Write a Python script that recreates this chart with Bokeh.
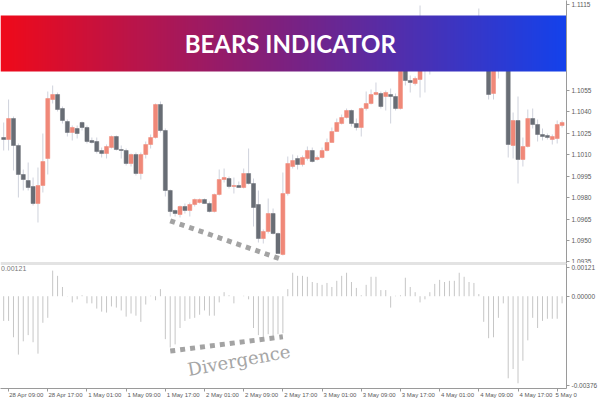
import numpy as np
from bokeh.plotting import figure
from bokeh.layouts import column
from bokeh.models import (Range1d, FixedTicker, NumeralTickFormatter, Span, Label, AllLabels)
from bokeh.embed import file_html
from bokeh.resources import INLINE

# ---- data (EURUSD H1) ----
opens = [1.10221, 1.10207, 1.10354, 1.10165, 1.09962, 1.09920, 1.09878, 1.09759, 1.09885, 1.10074,
         1.10487, 1.10522, 1.10424, 1.10333, 1.10256, 1.10284, 1.10326, 1.10291, 1.10200, 1.10193,
         1.10130, 1.10109, 1.10151, 1.10228, 1.10137, 1.10130, 1.10039, 1.10102, 1.09969, 1.10102,
         1.10172, 1.10221, 1.10452, 1.10270, 1.09850, 1.09710, 1.09682, 1.09738, 1.09710, 1.09752,
         1.09766, 1.09787, 1.09759, 1.09703, 1.09822, 1.09927, 1.09934, 1.09878, 1.09885, 1.09871,
         1.09969, 1.09899, 1.09752, 1.09514, 1.09563, 1.09689, 1.09549, 1.09402, 1.09829, 1.10018,
         1.10074, 1.10032, 1.10074, 1.10130, 1.10067, 1.10081, 1.10130, 1.10186, 1.10263, 1.10319,
         1.10361, 1.10410, 1.10319, 1.10291, 1.10424, 1.10459, 1.10522, 1.10529, 1.10508, 1.10522,
         1.10508, 1.10424, 1.10704, 1.10620, 1.10599, 1.10627, 1.10774, 1.10900, 1.10816, 1.10935,
         1.10886, 1.10970, 1.10914, 1.10984, 1.10935, 1.11005, 1.10956, 1.11026, 1.10970, 1.10865,
         1.10529, 1.10760, 1.10795, 1.10746, 1.10165, 1.10340, 1.10067, 1.10158, 1.10354, 1.10312,
         1.10242, 1.10235, 1.10207, 1.10214, 1.10305]
highs = [1.10326, 1.10487, 1.10368, 1.10179, 1.09997, 1.10046, 1.09941, 1.10011, 1.10249, 1.10543,
         1.10585, 1.10536, 1.10438, 1.10347, 1.10305, 1.10305, 1.10333, 1.10305, 1.10221, 1.10221,
         1.10151, 1.10172, 1.10235, 1.10235, 1.10165, 1.10144, 1.10109, 1.10116, 1.10116, 1.10193,
         1.10242, 1.10459, 1.10473, 1.10284, 1.09857, 1.09717, 1.09745, 1.09759, 1.09766, 1.09794,
         1.09794, 1.09794, 1.09773, 1.09829, 1.09997, 1.10004, 1.09948, 1.09941, 1.09913, 1.10004,
         1.10144, 1.09934, 1.09850, 1.09577, 1.09794, 1.09724, 1.09556, 1.09976, 1.10088, 1.10102,
         1.10095, 1.10095, 1.10158, 1.10151, 1.10095, 1.10151, 1.10214, 1.10291, 1.10354, 1.10382,
         1.10424, 1.10417, 1.10354, 1.10431, 1.10543, 1.10557, 1.10606, 1.10543, 1.10550, 1.10564,
         1.10529, 1.10760, 1.10746, 1.10655, 1.10648, 1.11145, 1.10970, 1.10970, 1.11005, 1.10984,
         1.11026, 1.11040, 1.11054, 1.11040, 1.11054, 1.11061, 1.11068, 1.11124, 1.11026, 1.10900,
         1.10795, 1.10865, 1.10865, 1.10795, 1.10396, 1.10508, 1.10221, 1.10417, 1.10424, 1.10347,
         1.10284, 1.10249, 1.10242, 1.10340, 1.10340]
lows = [1.10130, 1.10130, 1.09990, 1.09801, 1.09850, 1.09850, 1.09745, 1.09626, 1.09836, 1.09962,
        1.10459, 1.10403, 1.10319, 1.10228, 1.10200, 1.10214, 1.10270, 1.10179, 1.10179, 1.10109,
        1.10081, 1.10074, 1.10144, 1.10130, 1.10074, 1.10025, 1.10018, 1.09955, 1.09927, 1.10074,
        1.10144, 1.10214, 1.10256, 1.09808, 1.09668, 1.09668, 1.09661, 1.09689, 1.09668, 1.09738,
        1.09759, 1.09759, 1.09696, 1.09696, 1.09815, 1.09906, 1.09864, 1.09829, 1.09871, 1.09864,
        1.09892, 1.09598, 1.09486, 1.09479, 1.09549, 1.09542, 1.09409, 1.09395, 1.09815, 1.10004,
        1.09997, 1.10018, 1.10060, 1.10046, 1.10060, 1.10074, 1.10123, 1.10186, 1.10263, 1.10312,
        1.10354, 1.10298, 1.10270, 1.10228, 1.10410, 1.10452, 1.10515, 1.10424, 1.10410, 1.10319,
        1.10410, 1.10417, 1.10585, 1.10536, 1.10585, 1.10501, 1.10536, 1.10662, 1.10795, 1.10830,
        1.10858, 1.10872, 1.10886, 1.10900, 1.10914, 1.10928, 1.10935, 1.10900, 1.10718, 1.10487,
        1.10487, 1.10634, 1.10690, 1.10081, 1.10074, 1.09899, 1.10018, 1.10151, 1.10284, 1.10193,
        1.10200, 1.10207, 1.10172, 1.10179, 1.10291]
closes = [1.10207, 1.10354, 1.10165, 1.09962, 1.09927, 1.09871, 1.09759, 1.09885, 1.10053, 1.10494,
          1.10522, 1.10417, 1.10340, 1.10256, 1.10291, 1.10249, 1.10291, 1.10193, 1.10186, 1.10123,
          1.10109, 1.10158, 1.10228, 1.10137, 1.10130, 1.10039, 1.10102, 1.09969, 1.10102, 1.10172,
          1.10221, 1.10452, 1.10270, 1.09850, 1.09703, 1.09689, 1.09738, 1.09710, 1.09752, 1.09787,
          1.09787, 1.09759, 1.09703, 1.09822, 1.09927, 1.09941, 1.09878, 1.09885, 1.09871, 1.09969,
          1.09899, 1.09731, 1.09514, 1.09563, 1.09689, 1.09549, 1.09409, 1.09829, 1.10039, 1.10060,
          1.10032, 1.10081, 1.10130, 1.10053, 1.10081, 1.10130, 1.10186, 1.10263, 1.10326, 1.10361,
          1.10410, 1.10319, 1.10291, 1.10424, 1.10459, 1.10522, 1.10536, 1.10438, 1.10536, 1.10508,
          1.10424, 1.10718, 1.10620, 1.10606, 1.10634, 1.10760, 1.10900, 1.10816, 1.10935, 1.10886,
          1.10970, 1.10914, 1.10984, 1.10935, 1.11005, 1.10956, 1.11026, 1.10970, 1.10865, 1.10522,
          1.10760, 1.10795, 1.10746, 1.10172, 1.10340, 1.10067, 1.10158, 1.10354, 1.10312, 1.10242,
          1.10228, 1.10221, 1.10228, 1.10312, 1.10326]
bears = [-0.00104, -0.00104, -0.00173, -0.00246, -0.00190, -0.00164, -0.00194, -0.00242, -0.00112, -0.00091,
         0.00108, 0.00086, 0.00039, 0.00001, -0.00026, -0.00013, 0.00004, -0.00030, -0.00030, -0.00052,
         -0.00065, -0.00069, -0.00043, -0.00048, -0.00060, -0.00086, -0.00073, -0.00082, -0.00108, -0.00035,
         0.00002, -0.00017, 0.00030, -0.00181, -0.00216, -0.00203, -0.00134, -0.00104, -0.00095, -0.00091,
         -0.00078, -0.00060, -0.00082, -0.00082, -0.00026, 0.00017, 0.00004, -0.00030, 0.00000, 0.00002,
         -0.00013, -0.00134, -0.00164, -0.00177, -0.00160, -0.00168, -0.00160, -0.00156, 0.00030, 0.00099,
         0.00086, 0.00086, 0.00082, 0.00060, 0.00056, 0.00048, 0.00056, 0.00039, 0.00065, 0.00086,
         0.00099, 0.00060, 0.00035, 0.00004, 0.00048, 0.00082, 0.00082, 0.00026, 0.00026, -0.00048,
         0.00002, 0.00004, 0.00078, 0.00039, 0.00017, -0.00026, -0.00013, 0.00017, 0.00052, 0.00069,
         0.00060, 0.00065, 0.00065, 0.00099, 0.00082, 0.00060, 0.00056, 0.00009, -0.00108, -0.00177,
         -0.00173, -0.00091, -0.00030, -0.00346, -0.00307, -0.00367, -0.00272, -0.00186, -0.00091, -0.00134,
         -0.00104, -0.00095, -0.00095, -0.00095, -0.00030]

time_tick_idx = [1, 9, 17, 25, 33, 41, 49, 57, 65, 73, 81, 89, 97, 105, 113]
time_tick_labels = ["28 Apr 09:00", "28 Apr 17:00", "1 May 01:00", "1 May 09:00", "1 May 17:00",
                    "2 May 01:00", "2 May 09:00", "2 May 17:00", "3 May 01:00", "3 May 09:00",
                    "3 May 17:00", "4 May 01:00", "4 May 09:00", "4 May 17:00", "5 May 0"]
price_ticks = [1.0935, 1.0950, 1.0965, 1.0980, 1.0995, 1.1010, 1.1025, 1.1040, 1.1055, 1.1115]
bears_ticks = [0.00121, 0.0, -0.00376]
bears_tick_labels = ["0.00121", "0.00000", "-0.00376"]
divergence_idx = [34, 57]
title_text = "BEARS INDICATOR"

# ---- styling ----
BULL = "#f08878"
BEAR = "#686d75"
WICK = "#cfd2dc"
AXIS = "#9a9a9a"
LABEL = "#5a5a5a"
W = 600
RB = 31
X0, X1 = -0.65, 114.9
LABEL_SHIFT = 3.65   # time labels start just right of their tick (MT4 style)

idx = np.arange(len(opens))
o = np.array(opens); c = np.array(closes)
colors = [BULL if cc >= oo else BEAR for oo, cc in zip(opens, closes)]

xr = Range1d(X0, X1)

p = figure(width=W, height=263, x_range=xr, y_range=Range1d(1.09339, 1.1118),
           output_backend="svg", toolbar_location=None,
           x_axis_location=None, y_axis_location="right",
           min_border_left=0, min_border_right=RB, min_border_top=0, min_border_bottom=0,
           outline_line_color=None, background_fill_color="white", border_fill_color="white")
p.grid.visible = False
p.yaxis.ticker = FixedTicker(ticks=price_ticks)
p.yaxis.formatter = NumeralTickFormatter(format="0.0000")

p.segment(x0=idx, y0=highs, x1=idx, y1=lows, line_color=WICK, line_width=1)
p.vbar(x=idx, width=0.82, top=np.maximum(o, c), bottom=np.minimum(o, c),
       fill_color=colors, line_color=colors, line_width=0.5)

# divergence line on price (below the two lows)
p.line(x=divergence_idx, y=[lows[i] - 0.0003 for i in divergence_idx],
       line_color="#a3a3a3", line_width=5, line_dash="5 5")

# gradient banner
N = 400
stops = [(0.0, (240, 10, 26)), (0.5, (125, 33, 128)), (1.0, (20, 66, 236))]
t = np.linspace(0, 1, N)
rgb = np.zeros((N, 3))
for ch in range(3):
    rgb[:, ch] = np.interp(t, [s[0] for s in stops], [s[1][ch] for s in stops])
img = np.empty((2, N), dtype=np.uint32)
view = img.view(dtype=np.uint8).reshape((2, N, 4))
for r in range(2):
    view[r, :, 0] = rgb[:, 0]
    view[r, :, 1] = rgb[:, 1]
    view[r, :, 2] = rgb[:, 2]
    view[r, :, 3] = 255
p.image_rgba(image=[img], x=X0, y=1.10683, dw=X1 - X0, dh=0.00392)
p.add_layout(Label(x=58.5, y=1.10879, text=title_text, text_color="white",
                   text_font="Lato", text_font_style="bold", text_font_size="24px",
                   text_align="center", text_baseline="middle"))
p.add_layout(Span(location=1.09339, dimension="width", line_color="#c8c8c8", line_width=2))

q = figure(width=W, height=137, x_range=xr, y_range=Range1d(-0.00389, 0.00138),
           output_backend="svg", toolbar_location=None,
           x_axis_location="below", y_axis_location="right",
           min_border_left=0, min_border_right=RB, min_border_top=0, min_border_bottom=0,
           outline_line_color=None, background_fill_color="white", border_fill_color="white")
q.grid.visible = False
q.segment(x0=idx, y0=0, x1=idx, y1=bears, line_color="#c6c6c6", line_width=1)
q.line(x=divergence_idx, y=[bears[i] - 0.00015 for i in divergence_idx],
       line_color="#a3a3a3", line_width=5, line_dash="5 5")
q.add_layout(Label(x=48.0, y=-0.00270, text="Divergence", text_color="#a6a6a6",
                   text_font="DejaVu Serif", text_font_size="18px", angle=0.18,
                   text_align="center", text_baseline="middle"))
q.add_layout(Label(x=-0.55, y=0.00117, text="0.00121", text_color="#777777",
                   text_font_size="7px", text_baseline="middle", text_align="left"))
q.add_layout(Span(location=0.00138, dimension="width", line_color="#c8c8c8", line_width=2))

q.yaxis.ticker = FixedTicker(ticks=bears_ticks)
q.yaxis.major_label_overrides = {v: s for v, s in zip(bears_ticks, bears_tick_labels)}

for fig in (p, q):
    for ax in fig.axis:
        ax.axis_line_color = AXIS
        ax.major_tick_line_color = AXIS
        ax.major_tick_out = 3
        ax.major_tick_in = 0
        ax.minor_tick_line_color = None
        ax.major_label_text_font_size = "6.5px"
        ax.major_label_text_color = LABEL
        ax.major_label_text_font = "Liberation Sans"
    fig.yaxis.major_label_standoff = 2

# time axis: tick marks drawn as minor ticks at the bars, labels placed to the right of them
label_pos = [min(i + LABEL_SHIFT, X1 - 0.05) for i in time_tick_idx]
q.xaxis.ticker = FixedTicker(ticks=label_pos, minor_ticks=time_tick_idx)
q.xaxis.major_label_overrides = {x: s for x, s in zip(label_pos, time_tick_labels)}
q.xaxis.major_tick_line_color = None
q.xaxis.major_tick_out = 3
q.xaxis.minor_tick_line_color = AXIS
q.xaxis.minor_tick_out = 3
q.xaxis.minor_tick_in = 0
q.xaxis.major_label_standoff = 0
q.xaxis.major_label_text_font_size = "6px"
q.xaxis.major_label_policy = AllLabels()

layout = column(p, q, spacing=0)
open("out.html", "w").write(file_html(layout, INLINE))
